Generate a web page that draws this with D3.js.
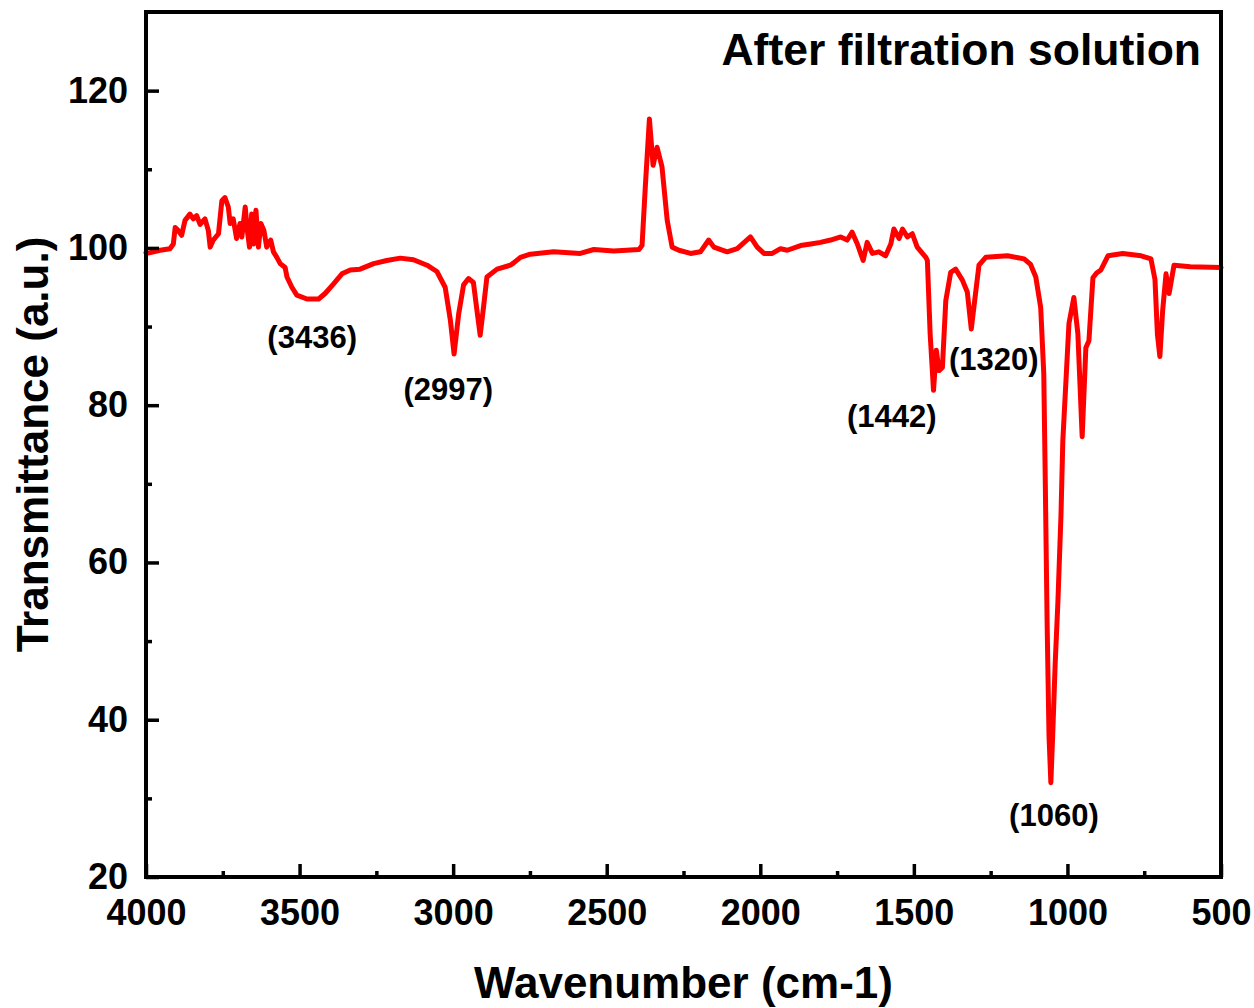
<!DOCTYPE html>
<html>
<head>
<meta charset="utf-8">
<script src="https://cdn.jsdelivr.net/npm/d3@7"></script>
<style>
  body { margin: 0; background: #fff; }
  text { font-family: "Liberation Sans", Arial, sans-serif; font-weight: bold; fill: #000; }
</style>
</head>
<body>
<div class="chart"></div>
<script>
/* Data */
const wavenumber = [
  4000, 3998, 3975, 3954, 3922, 3911, 3905, 3895, 3884, 3873, 3857, 3846, 3835, 3824, 3808, 3797,
  3791, 3781, 3764, 3753, 3743, 3732, 3726, 3716, 3705, 3694, 3688, 3677, 3670, 3663, 3656, 3650,
  3642, 3634, 3626, 3616, 3607, 3594, 3585, 3574, 3563, 3547, 3541, 3525, 3509, 3476, 3438, 3417,
  3390, 3362, 3335, 3303, 3259, 3216, 3172, 3129, 3085, 3053, 3026, 3009, 2997, 2982, 2966, 2950,
  2934, 2921, 2912, 2901, 2890, 2857, 2814, 2803, 2781, 2749, 2673, 2586, 2542, 2477, 2395, 2385,
  2374, 2361, 2349, 2336, 2320, 2303, 2287, 2265, 2227, 2195, 2168, 2151, 2108, 2075, 2032, 2010,
  1988, 1961, 1934, 1912, 1869, 1836, 1804, 1771, 1738, 1717, 1701, 1684, 1665, 1652, 1635, 1614,
  1592, 1575, 1565, 1548, 1537, 1521, 1505, 1489, 1472, 1461, 1456, 1447, 1436, 1427, 1418, 1407,
  1396, 1380, 1364, 1342, 1326, 1313, 1302, 1288, 1266, 1195, 1141, 1120, 1103, 1087, 1077, 1072,
  1066, 1060, 1054, 1048, 1040, 1031, 1021, 1015, 995, 979, 966, 952, 940, 930, 917, 905, 891,
  868, 820, 760, 728, 715, 707, 699, 690, 679, 669, 653, 600, 500
];
const transmittance = [
  99.4, 99.3, 99.5, 99.7, 99.9, 100.5, 102.6, 102.2, 101.6, 103.5, 104.3, 103.7, 104.1, 103.0, 103.7, 102.2,
  100.1, 101.0, 101.8, 106.0, 106.4, 105.2, 103.1, 103.7, 101.2, 103.1, 101.4, 105.2, 102.2, 100.1, 104.3, 100.5,
  104.8, 100.1, 103.1, 102.2, 100.1, 101.0, 99.5, 98.8, 98.0, 97.5, 96.3, 95.0, 94.0, 93.5, 93.5, 94.2,
  95.4, 96.7, 97.2, 97.3, 98.0, 98.4, 98.7, 98.5, 97.8, 97.0, 95.0, 90.8, 86.5, 91.6, 95.3, 96.1,
  95.6, 91.6, 88.9, 92.5, 96.3, 97.3, 97.8, 98.1, 98.8, 99.2, 99.5, 99.3, 99.8, 99.6, 99.8, 100.3,
  108.0, 116.4, 110.5, 112.8, 110.3, 103.5, 100.1, 99.7, 99.3, 99.5, 101.0, 100.1, 99.5, 99.9, 101.4, 100.1,
  99.3, 99.3, 99.9, 99.7, 100.3, 100.5, 100.7, 101.0, 101.4, 101.0, 102.0, 100.5, 98.4, 100.7, 99.3, 99.5,
  99.0, 100.5, 102.4, 101.2, 102.4, 101.4, 101.8, 100.1, 99.3, 98.8, 98.4, 89.1, 81.9, 87.0, 84.4, 84.8,
  93.3, 96.9, 97.3, 95.9, 94.4, 89.7, 93.3, 97.8, 98.8, 99.0, 98.6, 97.9, 96.3, 92.4, 84.0, 70.0,
  52.0, 38.0, 32.0, 38.0, 47.0, 55.0, 66.0, 75.5, 90.4, 93.7, 89.1, 76.0, 87.3, 88.2, 96.2, 96.8, 97.2,
  99.0, 99.3, 99.0, 98.6, 96.0, 89.0, 86.2, 92.0, 96.7, 94.2, 97.8, 97.6, 97.5
];

// Peak labels (text, wavenumber, transmittance where the label sits)
const peakLabels = ["(3436)", "(2997)", "(1442)", "(1320)", "(1060)"];
const peakLabelX = [3459, 3016, 1572, 1240, 1044];
const peakLabelY = [87.3, 80.7, 77.2, 84.5, 26.5];

const xTicks = [4000, 3500, 3000, 2500, 2000, 1500, 1000, 500];
const xMinorTicks = [3750, 3250, 2750, 2250, 1750, 1250, 750];
const yTicks = [20, 40, 60, 80, 100, 120];
const yMinorTicks = [30, 50, 70, 90, 110];

const data = wavenumber.map((w, i) => ({ w: w, t: transmittance[i] }));

/* Dimensions */
const width = 1254;
const height = 1008;
const margin = { top: 12, right: 33, bottom: 131, left: 146 };

/* Scales */
const xScale = d3.scaleLinear()
    .domain([4000, 500])
    .range([margin.left, width - margin.right]);

const yScale = d3.scaleLinear()
    .domain([20, 130])
    .range([height - margin.bottom, margin.top]);

/* SVG container */
const svg = d3.select(".chart")
    .append("svg")
    .attr("width", width)
    .attr("height", height);

// spectrum line
const line = d3.line()
    .x(d => xScale(d.w))
    .y(d => yScale(d.t));

svg.append("path")
    .datum(data)
    .attr("fill", "none")
    .attr("stroke", "#ff0000")
    .attr("stroke-width", 5)
    .attr("stroke-linejoin", "round")
    .attr("stroke-linecap", "round")
    .attr("d", line);

/* Axes */
svg.append("g")
    .attr("transform", `translate(0,${height - margin.bottom})`)
    .call(d3.axisBottom(xScale).tickValues(xTicks).tickSize(-13).tickPadding(22).tickFormat(d3.format("d")));
svg.append("g")
    .attr("transform", `translate(0,${height - margin.bottom})`)
    .call(d3.axisBottom(xScale).tickValues(xMinorTicks).tickSize(-6).tickFormat(""));

svg.append("g")
    .attr("transform", `translate(${margin.left},0)`)
    .call(d3.axisLeft(yScale).tickValues(yTicks).tickSize(-13).tickPadding(18));
svg.append("g")
    .attr("transform", `translate(${margin.left},0)`)
    .call(d3.axisLeft(yScale).tickValues(yMinorTicks).tickSize(-6).tickFormat(""));

svg.selectAll(".domain").remove();
svg.selectAll(".tick line")
    .attr("stroke", "#000")
    .attr("stroke-width", 3.5);
svg.selectAll(".tick text")
    .style("font-size", "36px")
    .style("font-family", "'Liberation Sans', Arial, sans-serif")
    .style("font-weight", "bold")
    .attr("fill", "#000");

// frame
svg.append("rect")
    .attr("x", margin.left)
    .attr("y", margin.top)
    .attr("width", width - margin.left - margin.right)
    .attr("height", height - margin.top - margin.bottom)
    .attr("fill", "none")
    .attr("stroke", "#000")
    .attr("stroke-width", 4);

// peak labels
svg.selectAll(".peak")
    .data(peakLabels)
    .enter()
    .append("text")
    .attr("class", "peak")
    .attr("x", (d, i) => xScale(peakLabelX[i]))
    .attr("y", (d, i) => yScale(peakLabelY[i]))
    .attr("text-anchor", "middle")
    .style("font-size", "31px")
    .text(d => d);

// axis titles
svg.append("text")
    .attr("x", (margin.left + width - margin.right) / 2)
    .attr("y", 998)
    .attr("text-anchor", "middle")
    .style("font-size", "44px")
    .text("Wavenumber (cm-1)");

svg.append("text")
    .attr("transform", `translate(48,${(margin.top + height - margin.bottom) / 2}) rotate(-90)`)
    .attr("text-anchor", "middle")
    .style("font-size", "44px")
    .text("Transmittance (a.u.)");

// title
svg.append("text")
    .attr("x", 1201)
    .attr("y", 65)
    .attr("text-anchor", "end")
    .style("font-size", "44.5px")
    .text("After filtration solution");
</script>
</body>
</html>
